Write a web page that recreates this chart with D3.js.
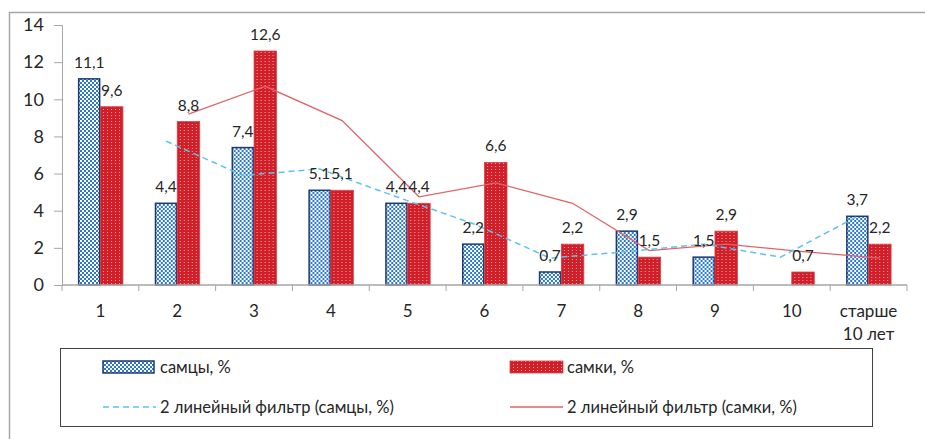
<!DOCTYPE html>
<html>
<head>
<meta charset="utf-8">
<script src="https://cdn.jsdelivr.net/npm/d3@7"></script>
<style>
  body { margin: 0; background: #fff; }
  svg text { font-family: Lato, "Noto Sans", sans-serif; fill: #262626; }
</style>
</head>
<body>
<svg id="chart" width="925" height="439"></svg>
<script>
// данные с картинки
const categories = ["1", "2", "3", "4", "5", "6", "7", "8", "9", "10", "старше 10 лет"];
const males = [11.1, 4.4, 7.4, 5.1, 4.4, 2.2, 0.7, 2.9, 1.5, null, 3.7];
const females = [9.6, 8.8, 12.6, 5.1, 4.4, 6.6, 2.2, 1.5, 2.9, 0.7, 2.2];
const malesTrend = [null, 7.75, 5.9, 6.25, 4.75, 3.3, 1.45, 1.8, 2.2, 1.5, 3.7];
const femalesTrend = [null, 9.2, 10.7, 8.85, 4.75, 5.5, 4.4, 1.85, 2.2, 1.8, 1.45];
const yTicks = [0, 2, 4, 6, 8, 10, 12, 14];

const svg = d3.select("#chart");
const defs = svg.append("defs");

// узор самцов: шахматка
const pm = defs.append("pattern")
  .attr("id", "checker")
  .attr("width", 4).attr("height", 4)
  .attr("patternUnits", "userSpaceOnUse");
pm.append("rect").attr("width", 4).attr("height", 4).attr("fill", "#ffffff");
pm.append("rect").attr("width", 2).attr("height", 2).attr("fill", "#2b78cc");
pm.append("rect").attr("x", 2).attr("y", 2).attr("width", 2).attr("height", 2).attr("fill", "#2b78cc");

// узор самок: красный с точками
const pf = defs.append("pattern")
  .attr("id", "dots")
  .attr("width", 4).attr("height", 3)
  .attr("patternUnits", "userSpaceOnUse");
pf.append("rect").attr("width", 4).attr("height", 3).attr("fill", "#d11f2a");
pf.append("rect").attr("x", 1).attr("y", 1).attr("width", 1).attr("height", 1).attr("fill", "#f3a7a7");

// рамка диаграммы
svg.append("path")
  .attr("d", "M9.5,439 L9.5,12.5 L925,12.5")
  .attr("fill", "none")
  .attr("stroke", "#a6a6a6")
  .attr("stroke-width", 1.5);

const x = d3.scaleBand().domain(categories).range([62, 907]).padding(0);
const groupW = 45;
const xSub = d3.scaleBand()
  .domain(["m", "f"])
  .range([(x.bandwidth() - groupW) / 2, (x.bandwidth() + groupW) / 2]);
const y = d3.scaleLinear().domain([0, 14]).range([285, 25]);

// ось Y
const yAxis = svg.append("g")
  .attr("transform", "translate(62,0)")
  .call(d3.axisLeft(y).tickValues(yTicks).tickSize(8).tickPadding(10).tickFormat(d3.format("d")));
yAxis.select(".domain").attr("stroke", "#a6a6a6");
yAxis.selectAll(".tick line").attr("stroke", "#a6a6a6");
yAxis.selectAll("text")
  .style("font-size", "18px")
  .attr("fill", "#262626");

// столбики
const groups = svg.append("g").selectAll("g")
  .data(categories)
  .join("g")
  .attr("transform", d => `translate(${x(d)},0)`);

groups.append("rect")
  .filter((d, i) => males[i] != null)
  .attr("x", xSub("m") + 0.75)
  .attr("width", xSub.bandwidth() - 1.5)
  .attr("y", (d, i) => y(males[categories.indexOf(d)]))
  .attr("height", (d) => y(0) - y(males[categories.indexOf(d)]))
  .attr("fill", "url(#checker)")
  .attr("stroke", "#1f3a6e")
  .attr("stroke-width", 1.5);

groups.append("rect")
  .attr("x", xSub("f"))
  .attr("width", xSub.bandwidth())
  .attr("y", (d, i) => y(females[i]))
  .attr("height", (d, i) => y(0) - y(females[i]))
  .attr("fill", "url(#dots)")
  .attr("stroke", "#d9414a")
  .attr("stroke-width", 0.8);

// ось X
const xAxis = svg.append("g").attr("transform", "translate(0,285)");
xAxis.append("line")
  .attr("x1", 62).attr("x2", 907)
  .attr("stroke", "#a6a6a6").attr("stroke-width", 1.3);
xAxis.selectAll(".tk")
  .data(categories.concat(["end"]))
  .join("line")
  .attr("class", "tk")
  .attr("x1", (d, i) => i < categories.length ? x(d) : x.range()[1])
  .attr("x2", (d, i) => i < categories.length ? x(d) : x.range()[1])
  .attr("y1", 0).attr("y2", 6)
  .attr("stroke", "#a6a6a6");
xAxis.selectAll(".lbl")
  .data(categories)
  .join("text")
  .attr("class", "lbl")
  .attr("x", d => x(d) + x.bandwidth() / 2)
  .attr("y", 32)
  .attr("text-anchor", "middle")
  .style("font-size", "17px")
  .each(function (d) {
    const parts = d === "старше 10 лет" ? ["старше", "10 лет"] : [d];
    d3.select(this).selectAll("tspan")
      .data(parts)
      .join("tspan")
      .attr("x", x(d) + x.bandwidth() / 2)
      .attr("dy", (p, k) => k === 0 ? 0 : 23)
      .text(p => p);
  });

// линии фильтра
const lineM = d3.line()
  .defined(d => d.v != null)
  .x(d => x(d.c) + xSub("m") + xSub.bandwidth() / 2)
  .y(d => y(d.v));
const lineF = d3.line()
  .defined(d => d.v != null)
  .x(d => x(d.c) + xSub("f") + xSub.bandwidth() / 2)
  .y(d => y(d.v));

svg.append("path")
  .datum(categories.map((c, i) => ({ c, v: femalesTrend[i] })))
  .attr("d", lineF)
  .attr("fill", "none")
  .attr("stroke", "#e0636a")
  .attr("stroke-width", 1.3);

svg.append("path")
  .datum(categories.map((c, i) => ({ c, v: malesTrend[i] })))
  .attr("d", lineM)
  .attr("fill", "none")
  .attr("stroke", "#5cc4ec")
  .attr("stroke-width", 1.5)
  .attr("stroke-dasharray", "6,4");

// подписи значений
const fmt = v => String(v).replace(".", ",");
const labels = svg.append("g").style("font-size", "15.5px");
categories.forEach((c, i) => {
  if (males[i] != null) {
    labels.append("text")
      .attr("x", x(c) + xSub("m") + xSub.bandwidth() / 2)
      .attr("y", y(males[i]) - 11)
      .attr("text-anchor", "middle")
      .text(fmt(males[i]));
  }
  labels.append("text")
    .attr("x", x(c) + xSub("f") + xSub.bandwidth() / 2)
    .attr("y", y(females[i]) - 11)
    .attr("text-anchor", "middle")
    .text(fmt(females[i]));
});

// легенда
const legend = svg.append("g");
legend.append("rect")
  .attr("x", 60.5).attr("y", 348.5)
  .attr("width", 812).attr("height", 78)
  .attr("fill", "#fff")
  .attr("stroke", "#404040")
  .attr("stroke-width", 1);

const legendItems = [
  { label: "самцы, %", x: 103, y: 367, kind: "m" },
  { label: "самки, %", x: 510, y: 367, kind: "f" },
  { label: "2 линейный фильтр (самцы, %)", x: 103, y: 407, kind: "lm" },
  { label: "2 линейный фильтр (самки, %)", x: 510, y: 407, kind: "lf" },
];
legendItems.forEach(it => {
  if (it.kind === "m") {
    legend.append("rect").attr("x", it.x).attr("y", it.y - 6).attr("width", 51).attr("height", 12)
      .attr("fill", "url(#checker)").attr("stroke", "#1f3a6e").attr("stroke-width", 1.5);
  } else if (it.kind === "f") {
    legend.append("rect").attr("x", it.x).attr("y", it.y - 6).attr("width", 53).attr("height", 12)
      .attr("fill", "url(#dots)").attr("stroke", "#d9414a").attr("stroke-width", 0.8);
  } else {
    legend.append("line").attr("x1", it.x).attr("x2", it.x + 53).attr("y1", it.y).attr("y2", it.y)
      .attr("stroke", it.kind === "lm" ? "#5cc4ec" : "#e0636a")
      .attr("stroke-width", it.kind === "lm" ? 1.5 : 1.3)
      .attr("stroke-dasharray", it.kind === "lm" ? "6,4" : null);
  }
  legend.append("text")
    .attr("x", it.x + 57)
    .attr("y", it.y + 6)
    .style("font-size", "16.5px")
    .text(it.label);
});
</script>
</body>
</html>
